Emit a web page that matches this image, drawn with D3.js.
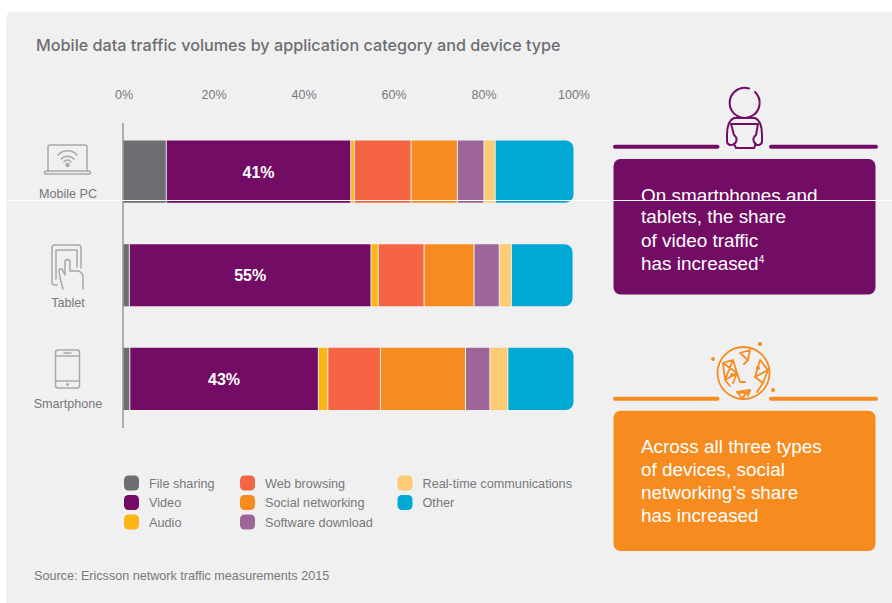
<!DOCTYPE html>
<html>
<head>
<meta charset="utf-8">
<script src="https://cdnjs.cloudflare.com/ajax/libs/d3/7.8.5/d3.min.js"></script>
<style>
html, body { margin: 0; padding: 0; background: #fff; }
svg { display: block; font-family: "Liberation Sans", Arial, sans-serif; }
.icon { fill: none; stroke-linecap: round; stroke-linejoin: round; }
</style>
</head>
<body>
<svg width="892" height="603"></svg>
<script>
// shares in percent
var devices = ["Mobile PC", "Tablet", "Smartphone"];
var seriesNames = ["File sharing", "Video", "Audio", "Web browsing", "Social networking",
                   "Software download", "Real-time communications", "Other"];
var fileSharing = [9.5, 1.3, 1.4];
var video = [41, 53.7, 41.9];
var audio = [0.8, 1.6, 2.1];
var webBrowsing = [12.6, 10.2, 11.7];
var socialNetworking = [10.3, 11.1, 18.9];
var softwareDownload = [5.9, 5.6, 5.4];
var realTime = [2.5, 2.7, 4];
var other = [17.4, 13.7, 14.6];
var videoLabels = ["41%", "55%", "43%"];
var axisTicks = [0, 20, 40, 60, 80, 100];
var seriesColors = ["#6d6e71", "#720c64", "#fdb515", "#f56544", "#f68b1f", "#9e6698", "#fdcb74", "#00a9d4"];

var seriesValues = [fileSharing, video, audio, webBrowsing, socialNetworking, softwareDownload, realTime, other];

var GREY = "#77787b";
var PANEL = "#f0f0f1";
var PURPLE = "#720c64";
var ORANGE = "#f68b1f";

var svg = d3.select("svg");

svg.append("path")
    .attr("d", "M6,603V18a6,6 0 0 1 6,-6H892V603Z")
    .attr("fill", PANEL);

svg.append("text")
    .attr("x", 36).attr("y", 51)
    .attr("font-family", "Inter").attr("font-weight", 500)
    .attr("font-size", 16.2).attr("fill", "#6d6e71")
    .text("Mobile data traffic volumes by application category and device type");

var x = d3.scaleLinear().domain([0, 100]).range([123.5, 573.5]);
var y = d3.scaleBand().domain(devices).range([140.5, 410]).paddingInner(0.4).paddingOuter(0);

// table for d3.stack
var rows = devices.map(function(d, i) {
    var row = {device: d};
    seriesNames.forEach(function(s, j) { row[s] = seriesValues[j][i]; });
    return row;
});
var stacked = d3.stack().keys(seriesNames)(rows);
var color = d3.scaleOrdinal().domain(seriesNames).range(seriesColors);

var xAxis = svg.append("g")
    .attr("transform", "translate(0,99)")
    .call(d3.axisTop(x).tickValues(axisTicks).tickSize(0).tickPadding(0)
        .tickFormat(function(d) { return d + "%"; }));
xAxis.select(".domain").remove();
xAxis.selectAll("text")
    .attr("font-family", "Liberation Sans")
    .attr("font-size", 12.5).attr("fill", GREY);

svg.append("line")
    .attr("x1", 123).attr("x2", 123).attr("y1", 123).attr("y2", 428)
    .attr("stroke", "#98999b").attr("stroke-width", 1.5);

function roundRight(x0, x1, y0, h, r) {
    return "M" + x0 + "," + y0 + "H" + (x1 - r) + "a" + r + "," + r + " 0 0 1 " + r + "," + r +
           "V" + (y0 + h - r) + "a" + r + "," + r + " 0 0 1 " + (-r) + "," + r + "H" + x0 + "Z";
}

svg.append("g").selectAll("g")
    .data(stacked)
    .enter().append("g")
    .attr("fill", function(d) { return color(d.key); })
    .each(function(s) {
        d3.select(this).selectAll("path")
            .data(s)
            .enter().append("path")
            .attr("d", function(d) {
                var x0 = x(d[0]) + (d[0] > 0 ? 0.5 : 0);
                var x1 = x(d[1]) - (d[1] < 99.9 ? 0.5 : 0);
                return roundRight(x0, x1, y(d.data.device), y.bandwidth(), s.key == "Other" ? 8 : 0);
            });
    });

// labels sit in the middle of the video segment
var videoStack = stacked[1];
svg.append("g").selectAll("text")
    .data(videoStack)
    .enter().append("text")
    .attr("x", function(d) { return x((d[0] + d[1]) / 2); })
    .attr("y", function(d) { return y(d.data.device) + y.bandwidth() / 2 + 6; })
    .attr("text-anchor", "middle")
    .attr("font-size", 16).attr("font-weight", "bold").attr("fill", "#fff")
    .text(function(d, i) { return videoLabels[i]; });

var labelOffset = {"Mobile PC": -5, "Tablet": 1, "Smartphone": -2.5};
svg.append("g").selectAll("text")
    .data(devices)
    .enter().append("text")
    .attr("x", 68)
    .attr("y", function(d) { return y(d) + y.bandwidth() + labelOffset[d]; })
    .attr("text-anchor", "middle")
    .attr("font-size", 12.6).attr("fill", GREY)
    .text(function(d) { return d; });

// legend, three columns
var legendCols = [124, 240, 397.5];
var legendRows = [483, 502.5, 522];
var legendSlots = [[0,0],[0,1],[0,2],[1,0],[1,1],[1,2],[2,0],[2,1]];
var legend = svg.append("g").selectAll("g")
    .data(seriesNames)
    .enter().append("g")
    .attr("transform", function(d, i) {
        return "translate(" + legendCols[legendSlots[i][0]] + "," + legendRows[legendSlots[i][1]] + ")";
    });
legend.append("rect")
    .attr("x", 0).attr("y", -7.5).attr("width", 15).attr("height", 15).attr("rx", 4.5)
    .attr("fill", function(d) { return color(d); });
legend.append("text")
    .attr("x", 25).attr("y", 4.5)
    .attr("font-size", 12.7).attr("fill", GREY)
    .text(function(d) { return d; });

svg.append("text")
    .attr("x", 34).attr("y", 580)
    .attr("font-size", 12.6).attr("fill", GREY)
    .text("Source: Ericsson network traffic measurements 2015");

// device icons
var deviceIcons = svg.append("g").attr("class", "icon").attr("stroke", "#a7a8aa").attr("stroke-width", 1.5);
deviceIcons.append("path").attr("d", "M48,171V147a2,2 0 0 1 2,-2H85a2,2 0 0 1 2,2V171");
deviceIcons.append("path").attr("d", "M46,171H89a1,1 0 0 1 0,3H46a1,1 0 0 1 0,-3Z");
deviceIcons.append("path").attr("d", "M58,155a13,13 0 0 1 19,0M61,159a9,9 0 0 1 13,0M64,162a4,4 0 0 1 7,0");
deviceIcons.append("circle").attr("cx", 67.5).attr("cy", 165).attr("r", 1.5).attr("fill", "#a7a8aa");
deviceIcons.append("path").attr("d", "M57,285H55a3,3 0 0 1 -3,-3V248a3,3 0 0 1 3,-3H78a3,3 0 0 1 3,3V268");
deviceIcons.append("path").attr("d", "M56,279V250H77V267");
deviceIcons.append("path").attr("d", "M63,289L60,278L59,271a2,2 0 0 1 4,0L65,275V262a2.5,2.5 0 0 1 5,0V271H76a6,6 0 0 1 7,5V289");
deviceIcons.append("rect").attr("x", 55.5).attr("y", 350).attr("width", 24).attr("height", 38).attr("rx", 2.5);
deviceIcons.append("path").attr("d", "M55.5,356H79.5M55.5,381H79.5M64,353H71");
deviceIcons.append("circle").attr("cx", 67.5).attr("cy", 384.5).attr("r", 0.7);

// callout boxes
function callout(boxTop, boxBottom, ruleY, fill, lines, baselines) {
    var g = svg.append("g");
    g.append("rect").attr("x", 613.5).attr("y", boxTop).attr("width", 262).attr("height", boxBottom - boxTop)
        .attr("rx", 7).attr("fill", fill);
    g.append("rect").attr("x", 613).attr("y", ruleY - 2).attr("width", 106.5).attr("height", 4).attr("rx", 2).attr("fill", fill);
    g.append("rect").attr("x", 769).attr("y", ruleY - 2).attr("width", 109).attr("height", 4).attr("rx", 2).attr("fill", fill);
    g.selectAll("text")
        .data(lines)
        .enter().append("text")
        .attr("x", 641)
        .attr("y", function(d, i) { return baselines[i]; })
        .attr("font-size", 18.9).attr("fill", "#fff")
        .text(function(d) { return d; });
    return g;
}

svg.append("clipPath").attr("id", "scanClip")
    .append("rect").attr("x", 613).attr("y", 159).attr("width", 263).attr("height", 41);

var purpleBox = callout(159, 294.5, 146.7, PURPLE,
    ["On smartphones and", "tablets, the share", "of video traffic", "has increased"],
    [201.5, 223, 246.5, 270]);
purpleBox.select("text").attr("clip-path", "url(#scanClip)");
purpleBox.select("text:last-child").append("tspan")
    .attr("font-size", 10).attr("dy", -7).text("4");

callout(410.7, 551, 398.7, ORANGE,
    ["Across all three types", "of devices, social", "networking\u2019s share", "has increased"],
    [453, 476, 499, 522]);

// person with tablet
var person = svg.append("g").attr("class", "icon").attr("stroke", PURPLE).attr("stroke-width", 2);
person.append("path").attr("d", "M755,92A15,15 0 1 1 749,88.500");
person.append("path").attr("d", "M734,118H755C760,120 762,127 762,135V141C762,145 758,146 755,144");
person.append("path").attr("d", "M734,118C729,120 727,127 727,135V141C727,145 731,146 734,144");
person.append("path").attr("d", "M731,124H758L756,135C752,138 753,142 756,144L754,148H736L734,144C737,142 738,138 734,135Z");

// globe
var globe = svg.append("g").attr("class", "icon").attr("stroke", ORANGE).attr("stroke-width", 1.8);
globe.append("circle").attr("cx", 743.500).attr("cy", 373).attr("r", 26);
globe.append("path").attr("d", "M740,353L750,350L748,360ZM740,353L748,360L744,364");
globe.append("path").attr("d", "M723,363L733,360L737,373L725,380ZM733,360L725,380M723,363L737,373M737,373L740,382L745,382M725,380L730,386M737,373L733,383");
globe.append("path").attr("d", "M737,392L750,390L742,398ZM737,392L745,393M750,390L748,396");
globe.append("path").attr("d", "M760,360L768,370L763,383L755,377ZM760,360L755,377M768,370L755,377M763,383L757,392");
[[713, 359], [760, 344], [773, 390], [758, 368], [732, 375]].forEach(function(p) {
    svg.append("circle").attr("cx", p[0]).attr("cy", p[1]).attr("r", 2).attr("fill", ORANGE);
});

// white scan line that runs across the source image
svg.append("rect").attr("x", 0).attr("y", 200).attr("width", 892).attr("height", 1).attr("fill", "#fff");
</script>
</body>
</html>
